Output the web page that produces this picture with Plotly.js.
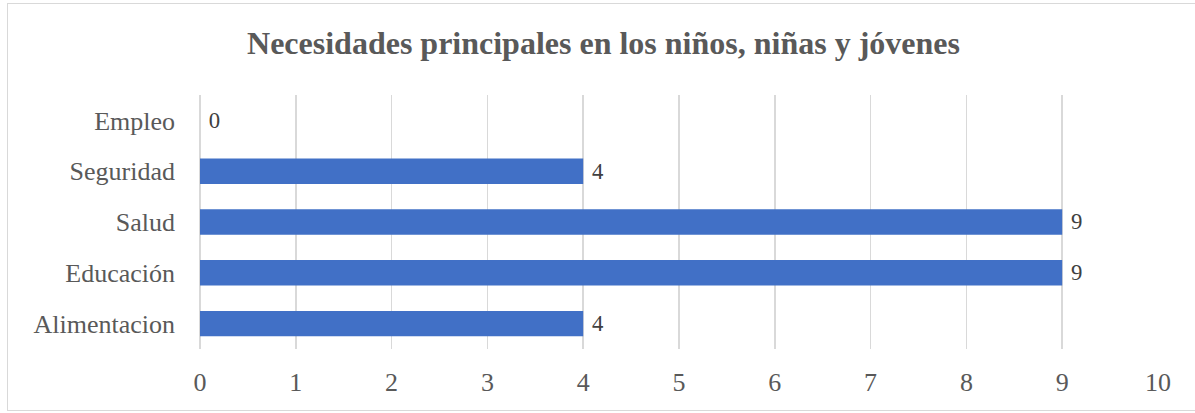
<!DOCTYPE html>
<html>
<head>
<meta charset="utf-8">
<script src="https://cdn.plot.ly/plotly-3.0.1.min.js"></script>
<style>
  html, body { margin: 0; padding: 0; background: #ffffff; overflow: hidden; }
  #frame { position: absolute; left: 7px; top: 3px; width: 1200px; height: 408px;
           border: 1.5px solid #d9d9d9; box-sizing: border-box; }
  #chart { width: 100%; height: 100%; }
</style>
</head>
<body>
<div id="frame"><div id="chart"></div></div>
<script>
const chartTitle = "Necesidades principales en los niños, niñas y jóvenes";
const categories = ["Alimentacion", "Educación", "Salud", "Seguridad", "Empleo"];
const values = [4, 9, 9, 4, 0];
const xTicks = [0, 1, 2, 3, 4, 5, 6, 7, 8, 9, 10];

const textColor = "#595959";
const gridColor = "#d9d9d9";
const fontFam = "Liberation Serif";

const trace = {
  type: "bar",
  orientation: "h",
  y: categories,
  x: values,
  marker: { color: "#4170c6", line: { width: 0 } },
  text: values.map(String),
  texttemplate: "\u00a0%{x}",
  textposition: "outside",
  cliponaxis: false,
  textfont: { family: fontFam, size: 26, color: "#404040" },
  hoverinfo: "skip"
};

const layout = {
  width: 1197,
  height: 405,
  margin: { l: 192, r: 47, t: 91, b: 60 },
  paper_bgcolor: "rgba(0,0,0,0)",
  plot_bgcolor: "rgba(0,0,0,0)",
  bargap: 0.5,
  showlegend: false,
  font: { family: fontFam, color: textColor, size: 26 },
  title: {
    text: "<b>" + chartTitle + "</b>",
    font: { family: fontFam, size: 32, color: textColor },
    x: 0.4975, xref: "container", xanchor: "center",
    y: 0.905, yref: "container", yanchor: "middle"
  },
  xaxis: {
    range: [0, 10],
    tickvals: xTicks,
    ticktext: xTicks.map(String),
    showgrid: true,
    gridcolor: gridColor,
    gridwidth: 1.5,
    zeroline: true,
    zerolinecolor: gridColor,
    zerolinewidth: 1.5,
    showline: false,
    ticks: "",
    ticklabelstandoff: 15,
    tickfont: { family: fontFam, size: 26, color: textColor },
    fixedrange: true
  },
  yaxis: {
    type: "category",
    showgrid: false,
    zeroline: false,
    showline: false,
    ticks: "",
    ticklabelstandoff: 24,
    tickfont: { family: fontFam, size: 26, color: textColor },
    fixedrange: true
  }
};

Plotly.newPlot("chart", [trace], layout, { displayModeBar: false, staticPlot: true });
</script>
</body>
</html>
